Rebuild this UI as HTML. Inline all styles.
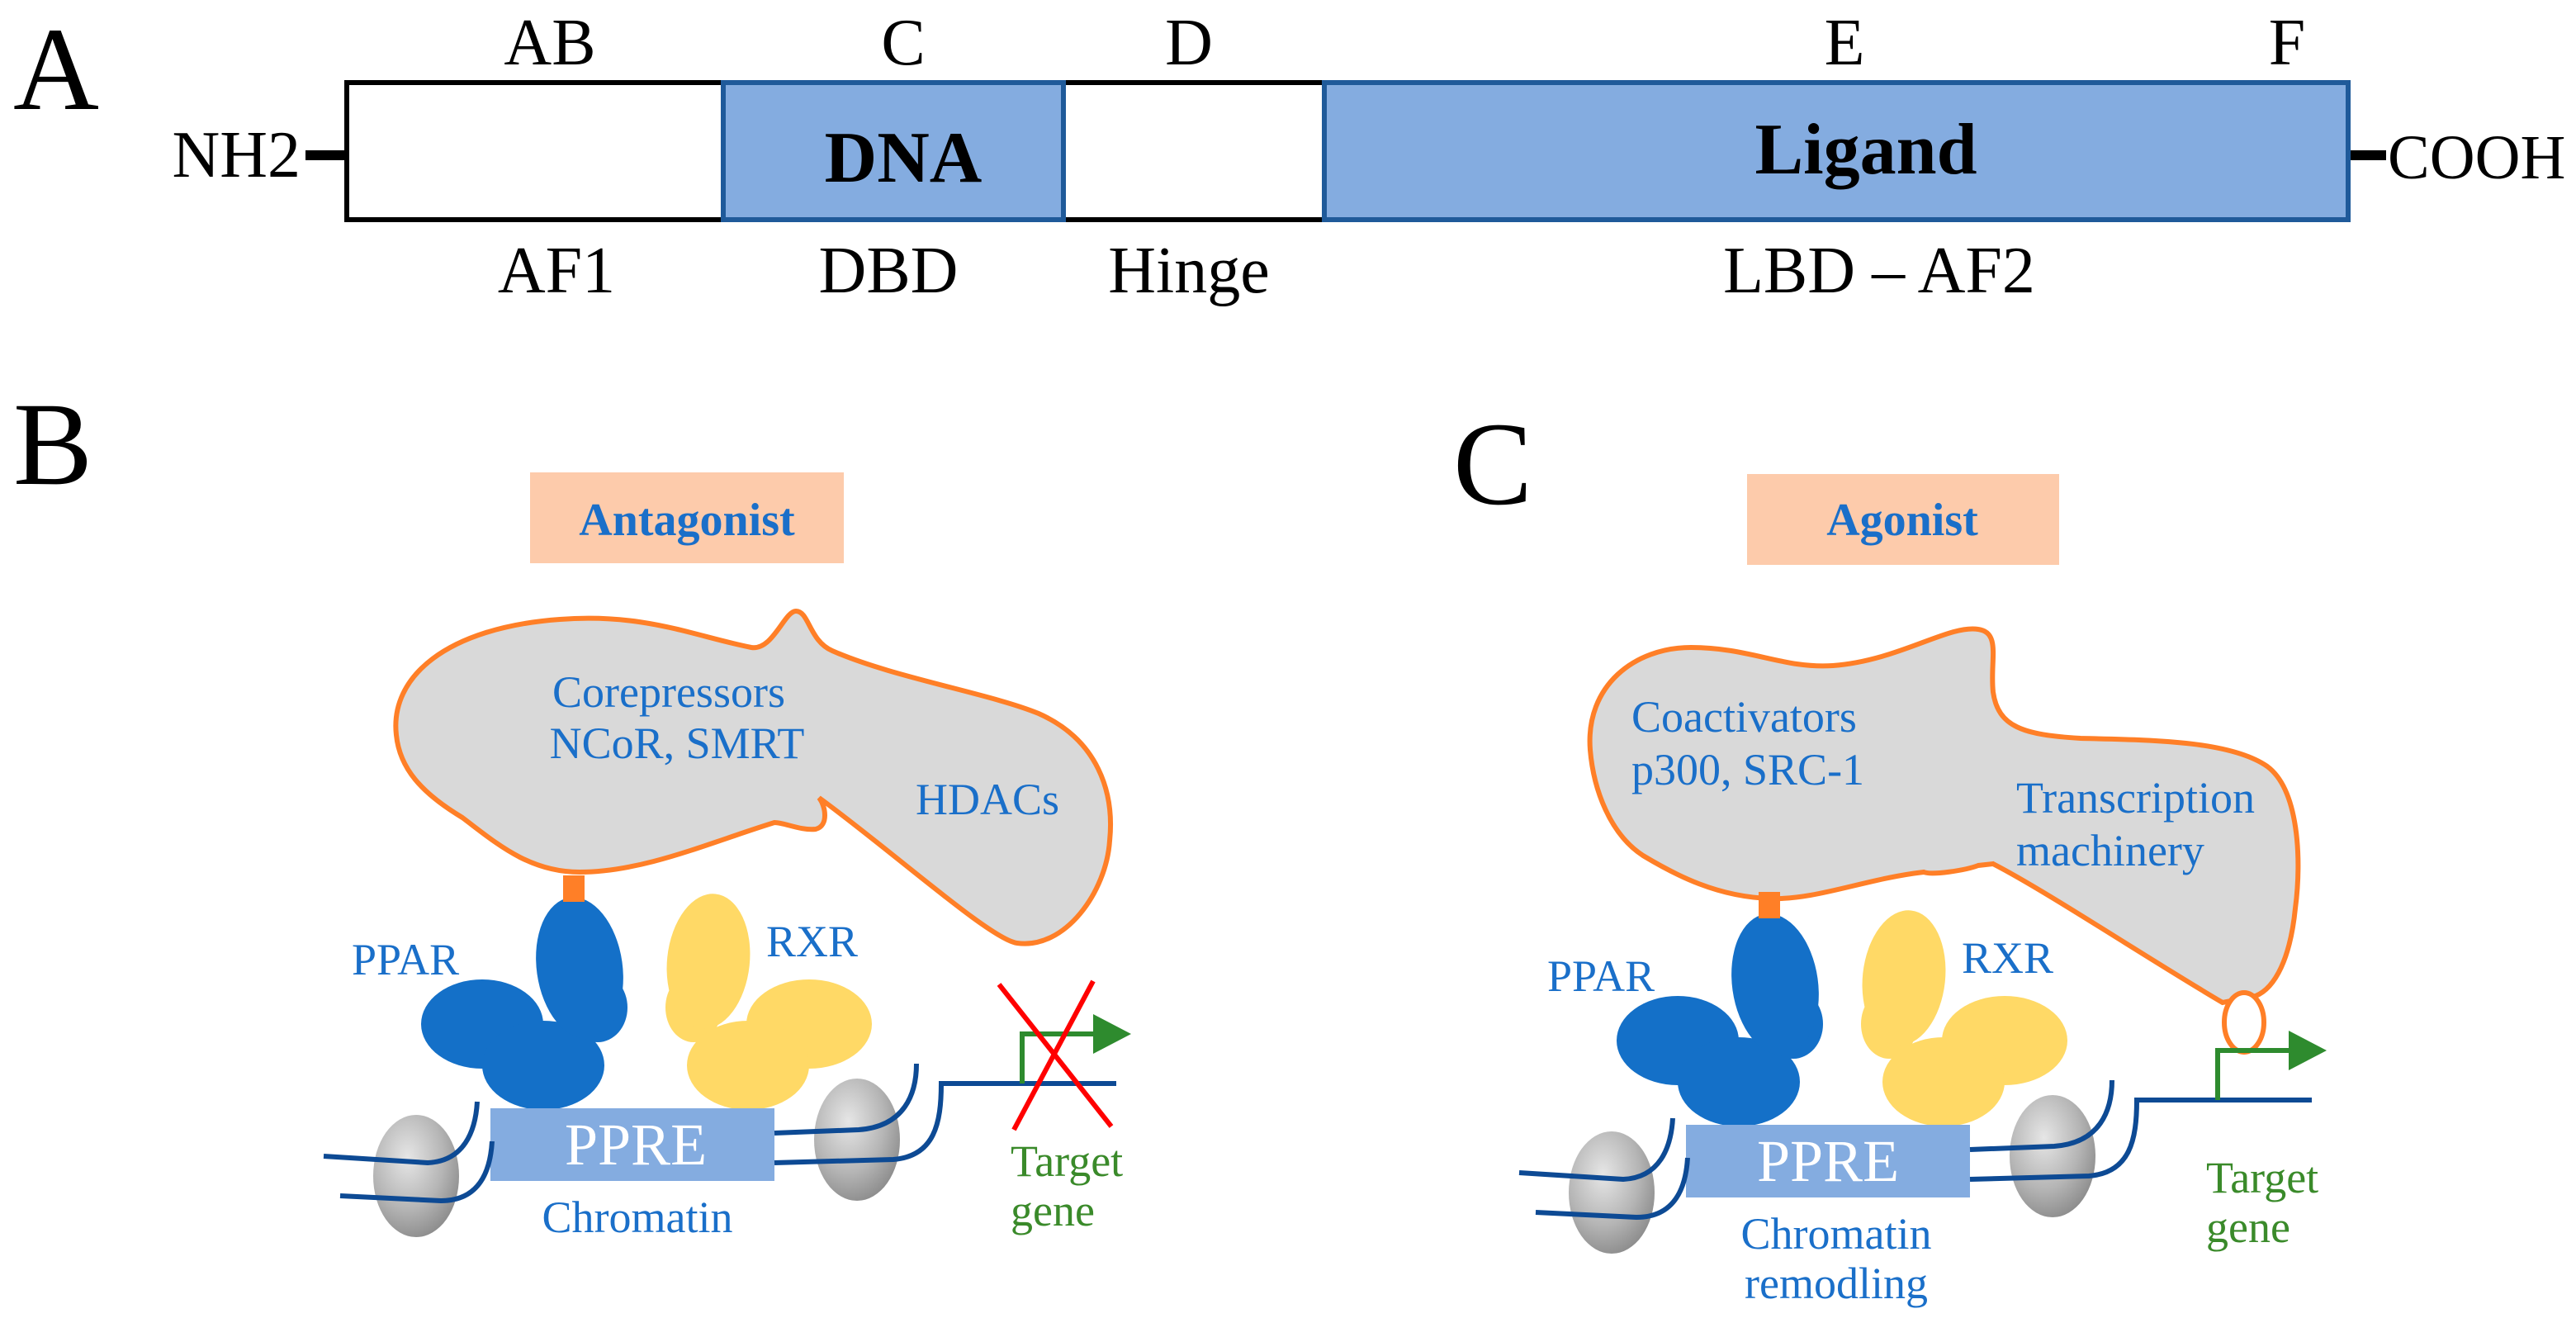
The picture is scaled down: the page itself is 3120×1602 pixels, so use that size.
<!DOCTYPE html>
<html><head><meta charset="utf-8"><style>
html,body{margin:0;padding:0;background:#fff;}
svg{display:block;}
text{font-family:"Liberation Serif",serif;}
</style></head><body>
<svg width="3120" height="1602" viewBox="0 0 1560 801" xmlns="http://www.w3.org/2000/svg" font-family="Liberation Serif, serif">
<defs>
<radialGradient id="nuc" cx="0.4" cy="0.35" r="0.7">
<stop offset="0" stop-color="#e6e6e6"/><stop offset="0.6" stop-color="#b5b5b5"/><stop offset="1" stop-color="#8a8a8a"/>
</radialGradient>
<g id="prot">
<ellipse cx="1016" cy="630" rx="37" ry="27" fill="#1470c8"/>
<ellipse cx="1053" cy="655" rx="37" ry="27" fill="#1470c8"/>
<ellipse cx="1086" cy="620" rx="18" ry="21" fill="#1470c8"/>
<ellipse cx="1075" cy="596" rx="26" ry="43" fill="#1470c8" transform="rotate(-8 1075 596)"/>
<ellipse cx="1144" cy="620" rx="17" ry="21" fill="#ffd966"/>
<ellipse cx="1153" cy="592" rx="25" ry="41" fill="#ffd966" transform="rotate(6 1153 592)"/>
<ellipse cx="1214" cy="630" rx="38" ry="27" fill="#ffd966"/>
<ellipse cx="1177" cy="655" rx="37" ry="27" fill="#ffd966"/>
<rect x="1065" y="540" width="13" height="16" fill="#ff7f27"/>
</g>
<g id="dna">
<ellipse cx="976" cy="722" rx="26" ry="37" fill="url(#nuc)"/>
<ellipse cx="1243" cy="700" rx="26" ry="37" fill="url(#nuc)"/>
<rect x="1021" y="681" width="172" height="44" fill="#84ace0"/>
<g fill="none" stroke="#0d4a94" stroke-width="3">
<path d="M920,710 L983,714 C1005,713 1012,695 1013,677"/>
<path d="M930,734 L991,737 C1015,737 1021,718 1022,701"/>
<path d="M1193,696 L1244,694 C1272,692 1279,672 1279,654"/>
<path d="M1193,714 L1265,712 C1290,710 1294,690 1294,666 L1400,666"/>
</g>
<path d="M1343,666 L1343,636 L1388,636" fill="none" stroke="#2e8b2e" stroke-width="3"/>
<polygon points="1386,624 1409,636 1386,648" fill="#2e8b2e"/>
</g>
</defs>

<!-- Panel A -->
<text x="8" y="66" font-size="72">A</text>
<rect x="185" y="91" width="25" height="6" fill="#000"/>
<rect x="1422" y="91" width="23" height="6" fill="#000"/>
<rect x="210" y="50" width="228" height="83" fill="#fff" stroke="#000" stroke-width="3"/>
<rect x="644" y="50" width="158" height="83" fill="#fff" stroke="#000" stroke-width="3"/>
<rect x="438" y="50" width="206" height="83" fill="#84ace0" stroke="#1f5a9a" stroke-width="3"/>
<rect x="802" y="50" width="620" height="83" fill="#84ace0" stroke="#1f5a9a" stroke-width="3"/>
<text x="182" y="107" font-size="40" text-anchor="end">NH2</text>
<text x="1446" y="108" font-size="38">COOH</text>
<g font-size="40" text-anchor="middle">
<text x="333" y="39">AB</text><text x="547" y="39">C</text><text x="720" y="39">D</text>
<text x="1117" y="39">E</text><text x="1385" y="39">F</text>
<text x="337" y="177">AF1</text><text x="538" y="177">DBD</text><text x="720" y="177">Hinge</text>
<text x="1138" y="177">LBD – AF2</text>
</g>
<text x="547" y="110" font-size="44" font-weight="bold" text-anchor="middle">DNA</text>
<text x="1130" y="105" font-size="44" font-weight="bold" text-anchor="middle">Ligand</text>

<!-- Panel B -->
<text x="8" y="293" font-size="72">B</text>
<rect x="321" y="286" width="190" height="55" fill="#fdcbab"/>
<text x="416" y="324" font-size="28" font-weight="bold" fill="#1a6fc9" text-anchor="middle">Antagonist</text>
<path d="M240,445 C236,410 270,380 339,375 C390,371 420,385 455,392 C468,394 475,370 482,370 C490,370 490,388 504,394 C540,410 600,420 629,432 C665,448 675,480 672,509 C670,540 645,575 616,571 C600,569 540,515 496,483 C500,488 502,500 494,502 C485,503 475,498 469,498 C430,510 390,528 351,528 C320,528 300,510 280,495 C255,480 242,465 240,445 Z" fill="#d9d9d9" stroke="#ff7f27" stroke-width="3"/>
<g font-size="27" fill="#1a6fc9">
<text x="405" y="428" text-anchor="middle">Corepressors</text>
<text x="410" y="459" text-anchor="middle">NCoR, SMRT</text>
<text x="598" y="493" text-anchor="middle">HDACs</text>
<text x="213" y="590">PPAR</text>
<text x="464" y="579">RXR</text>
</g>
<g transform="translate(-724,-10)">
<use href="#prot"/>
<use href="#dna"/>
</g>
<text x="385" y="705" font-size="36" fill="#fff" text-anchor="middle">PPRE</text>
<text x="386" y="746" font-size="27" fill="#1a6fc9" text-anchor="middle">Chromatin</text>
<g stroke="#ff0000" stroke-width="3">
<line x1="605" y1="596" x2="673" y2="682"/>
<line x1="662" y1="594" x2="614" y2="684"/>
</g>
<g font-size="27" fill="#3a8a2a">
<text x="612" y="712">Target</text>
<text x="612" y="742">gene</text>
</g>

<!-- Panel C -->
<text x="880" y="305" font-size="72">C</text>
<rect x="1058" y="287" width="189" height="55" fill="#fdcbab"/>
<text x="1152" y="324" font-size="28" font-weight="bold" fill="#1a6fc9" text-anchor="middle">Agonist</text>
<path d="M963,454 C960,415 990,392 1024,392 C1060,392 1080,405 1110,403 C1150,400 1180,378 1198,381 C1212,383 1205,400 1207,419 C1210,440 1225,445 1260,447 C1300,448 1350,448 1373,464 C1392,478 1394,520 1390,550 C1387,580 1378,598 1366,603 L1346,607 C1300,580 1240,540 1207,523 L1198,524 C1190,527 1170,530 1165,528 C1130,532 1100,545 1072,544 C1040,543 1015,530 995,518 C975,505 965,478 963,454 Z" fill="#d9d9d9" stroke="#ff7f27" stroke-width="3"/>
<ellipse cx="1359" cy="619" rx="12" ry="18" fill="#fff" stroke="#ff7f27" stroke-width="3"/>
<g font-size="27" fill="#1a6fc9">
<text x="988" y="443">Coactivators</text>
<text x="988" y="475">p300, SRC-1</text>
<text x="1221" y="492">Transcription</text>
<text x="1221" y="524">machinery</text>
<text x="937" y="600">PPAR</text>
<text x="1188" y="589">RXR</text>
</g>
<use href="#prot"/>
<use href="#dna"/>
<text x="1107" y="715" font-size="36" fill="#fff" text-anchor="middle">PPRE</text>
<g font-size="27" fill="#1a6fc9" text-anchor="middle">
<text x="1112" y="756">Chromatin</text>
<text x="1112" y="786">remodling</text>
</g>
<g font-size="27" fill="#3a8a2a">
<text x="1336" y="722">Target</text>
<text x="1336" y="752">gene</text>
</g>
</svg>
</body></html>
